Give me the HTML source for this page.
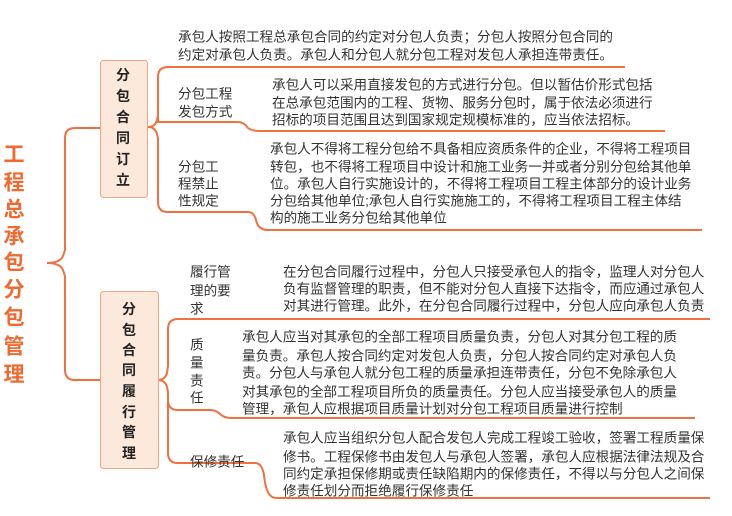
<!DOCTYPE html>
<html><head><meta charset="utf-8"><style>
html,body{margin:0;padding:0;background:#fff;}
svg{display:block;}
text{font-family:"Liberation Sans","Noto Sans CJK SC",sans-serif;fill:#333;font-size:13.6px;dominant-baseline:central;}
.r{fill:#f06a30;font-size:21px;font-weight:bold;text-anchor:middle;}
.b{font-weight:bold;font-size:14px;text-anchor:middle;fill:#222;}
</style></head><body>
<svg width="732" height="516" viewBox="0 0 732 516" xmlns="http://www.w3.org/2000/svg">
<g fill="none" stroke="#f07040" stroke-width="2">
<path d="M47 263 Q60 263 63 256 L65 250 L65 138 Q65 128 75 128 L100 128"/>
<path d="M47 263 Q60 263 63 270 L65 276 L65 370 Q65 380 75 380 L100 380"/>
<path d="M148 127 Q155 127 157 120 L158 115 L158 77 Q158 67 168 67 L625 67" />
<path d="M148 127 Q155 127 157 134 L158 138 L158 202 Q158 212 168 212 L248 212 Q254 212 256 220 Q258 230 268 230 L702 230"/>
<path d="M158 112 L158 122 L238 122 Q244 122 248 128 Q252 131 260 131 L665 131"/>
<path d="M158 380 Q165 380 167 373 L168 366 L168 329 Q168 319 178 319 L710 319"/>
<path d="M158 380 Q165 380 167 387 L168 392 L168 453 Q168 463 178 463 L255 463 Q262 463 264 475 Q266 498 276 498 L710 498"/>
<path d="M168 400 Q168 410 178 410 L210 410 Q216 410 220 414 Q224 418 232 418 L695 418"/>
</g>
<rect x="100.5" y="60.5" width="47" height="137" rx="3" fill="#fde8dc" stroke="#f0a582"/>
<rect x="100.5" y="291.5" width="58" height="177" rx="3" fill="#fde8dc" stroke="#f0a582"/>
<g>
<text class="r" x="14" y="155">工</text><text class="r" x="14" y="183">程</text><text class="r" x="14" y="210">总</text><text class="r" x="14" y="237">承</text><text class="r" x="14" y="263">包</text><text class="r" x="14" y="290">分</text><text class="r" x="14" y="318">包</text><text class="r" x="14" y="347">管</text><text class="r" x="14" y="375">理</text>
</g>
<g>
<text class="b" x="123" y="75">分</text><text class="b" x="123" y="96">包</text><text class="b" x="123" y="117">合</text><text class="b" x="123" y="138">同</text><text class="b" x="123" y="159">订</text><text class="b" x="123" y="180">立</text>
<text class="b" x="129" y="309">分</text><text class="b" x="129" y="330">包</text><text class="b" x="129" y="350">合</text><text class="b" x="129" y="370">同</text><text class="b" x="129" y="391">履</text><text class="b" x="129" y="412">行</text><text class="b" x="129" y="432">管</text><text class="b" x="129" y="453">理</text>
</g>
<text x="178" y="37">承包人按照工程总承包合同的约定对分包人负责；分包人按照分包合同的</text>
<text x="178" y="55">约定对承包人负责。承包人和分包人就分包工程对发包人承担连带责任。</text>
<text x="178" y="94">分包工程</text><text x="178" y="112">发包方式</text>
<text x="272" y="85">承包人可以采用直接发包的方式进行分包。但以暂估价形式包括</text>
<text x="272" y="103">在总承包范围内的工程、货物、服务分包时，属于依法必须进行</text>
<text x="272" y="120">招标的项目范围且达到国家规定规模标准的，应当依法招标。</text>
<text x="178" y="167">分包工</text><text x="178" y="184">程禁止</text><text x="178" y="201">性规定</text>
<text x="270" y="149">承包人不得将工程分包给不具备相应资质条件的企业，不得将工程项目</text>
<text x="270" y="167">转包，也不得将工程项目中设计和施工业务一并或者分别分包给其他单</text>
<text x="270" y="184">位。承包人自行实施设计的，不得将工程项目工程主体部分的设计业务</text>
<text x="270" y="201">分包给其他单位;承包人自行实施施工的，不得将工程项目工程主体结</text>
<text x="270" y="218">构的施工业务分包给其他单位</text>
<text x="190" y="272">履行管</text><text x="190" y="291">理的要</text><text x="190" y="309">求</text>
<text x="283" y="272">在分包合同履行过程中，分包人只接受承包人的指令，监理人对分包人</text>
<text x="283" y="289">负有监督管理的职责，但不能对分包人直接下达指令，而应通过承包人</text>
<text x="283" y="306">对其进行管理。此外，在分包合同履行过程中，分包人应向承包人负责</text>
<text x="190" y="345">质</text><text x="190" y="363">量</text><text x="190" y="381">责</text><text x="190" y="398">任</text>
<text x="242" y="337">承包人应当对其承包的全部工程项目质量负责，分包人对其分包工程的质</text>
<text x="242" y="356">量负责。承包人按合同约定对发包人负责，分包人按合同约定对承包人负</text>
<text x="242" y="373">责。分包人与承包人就分包工程的质量承担连带责任，分包不免除承包人</text>
<text x="242" y="392">对其承包的全部工程项目所负的质量责任。分包人应当接受承包人的质量</text>
<text x="242" y="409">管理，承包人应根据项目质量计划对分包工程项目质量进行控制</text>
<text x="190" y="462">保修责任</text>
<text x="283" y="438">承包人应当组织分包人配合发包人完成工程竣工验收，签署工程质量保</text>
<text x="283" y="457">修书。工程保修书由发包人与承包人签署，承包人应根据法律法规及合</text>
<text x="283" y="474">同约定承担保修期或责任缺陷期内的保修责任，不得以与分包人之间保</text>
<text x="283" y="491">修责任划分而拒绝履行保修责任</text>
</svg>
</body></html>
